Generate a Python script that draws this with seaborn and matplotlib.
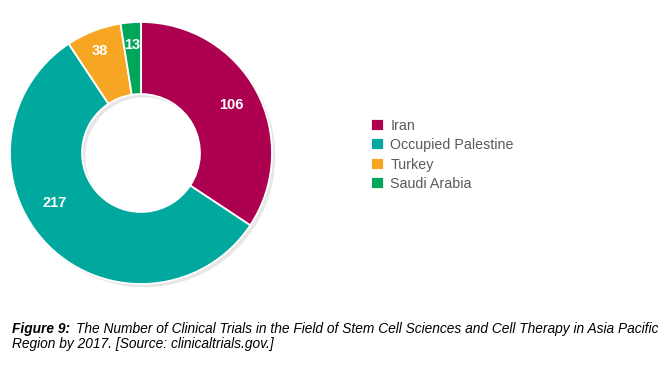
import matplotlib
matplotlib.use("Agg")
import numpy as np
import matplotlib.pyplot as plt
import seaborn as sns

categories = ["Iran", "Occupied Palestine", "Turkey", "Saudi Arabia"]
values = [106, 217, 38, 13]
# angular share of each slice as drawn in the reference (degrees)
slice_degrees = [123.5, 203.0, 24.5, 9.0]
colors = ["#AD0050", "#00A89D", "#F6A623", "#00A65A"]
label_angles = [62, 240, 338, 355.5]   # clockwise from top, degrees
label_radii = [0.78, 0.76, 0.84, 0.83]

sns.set_theme(style="white")
plt.rcParams['font.family'] = ['Liberation Sans', 'DejaVu Sans']

fig = plt.figure(figsize=(6.67, 3.70), dpi=100)
ax = fig.add_axes([10/667, 86/370, 262/667, 262/370])
palette = sns.color_palette(colors)

# faint shadow ring
ax.pie(slice_degrees, colors=["#d8d8d8"] * 4, startangle=90, counterclock=False,
       radius=1.0, center=(0.025, -0.025),
       wedgeprops=dict(width=0.55, edgecolor="none", alpha=0.6))
wedges, _ = ax.pie(slice_degrees, colors=palette, startangle=90, counterclock=False,
                   radius=1.0,
                   wedgeprops=dict(width=0.55, edgecolor="white", linewidth=1.3))
for v, a, r in zip(values, label_angles, label_radii):
    th = np.deg2rad(a)
    ax.text(r * np.sin(th), r * np.cos(th), str(v), color="white", fontsize=10.5,
            fontweight="bold", ha="center", va="center")
ax.set_xlim(-1, 1); ax.set_ylim(-1, 1)
ax.set_aspect("equal")
ax.axis("off")

fig.legend(wedges, categories, loc="upper left", bbox_to_anchor=(371/667, 1-119/370),
           frameon=False, fontsize=10.3, labelcolor="#5a5a5a", handlelength=0.9,
           handleheight=0.9, handletextpad=0.45, labelspacing=0.37, borderaxespad=0,
           borderpad=0)

fig.text(12/667, 1-333/370, "Figure 9:", fontsize=9.9, style="italic", fontweight="bold",
         va="baseline", ha="left", color="black")
fig.text(76/667, 1-333/370, "The Number of Clinical Trials in the Field of Stem Cell Sciences and Cell Therapy in Asia Pacific",
         fontsize=9.9, style="italic", va="baseline", ha="left", color="black")
fig.text(12/667, 1-348/370, "Region by 2017. [Source: clinicaltrials.gov.]",
         fontsize=9.9, style="italic", va="baseline", ha="left", color="black")

fig.savefig("out.png", dpi=100)
